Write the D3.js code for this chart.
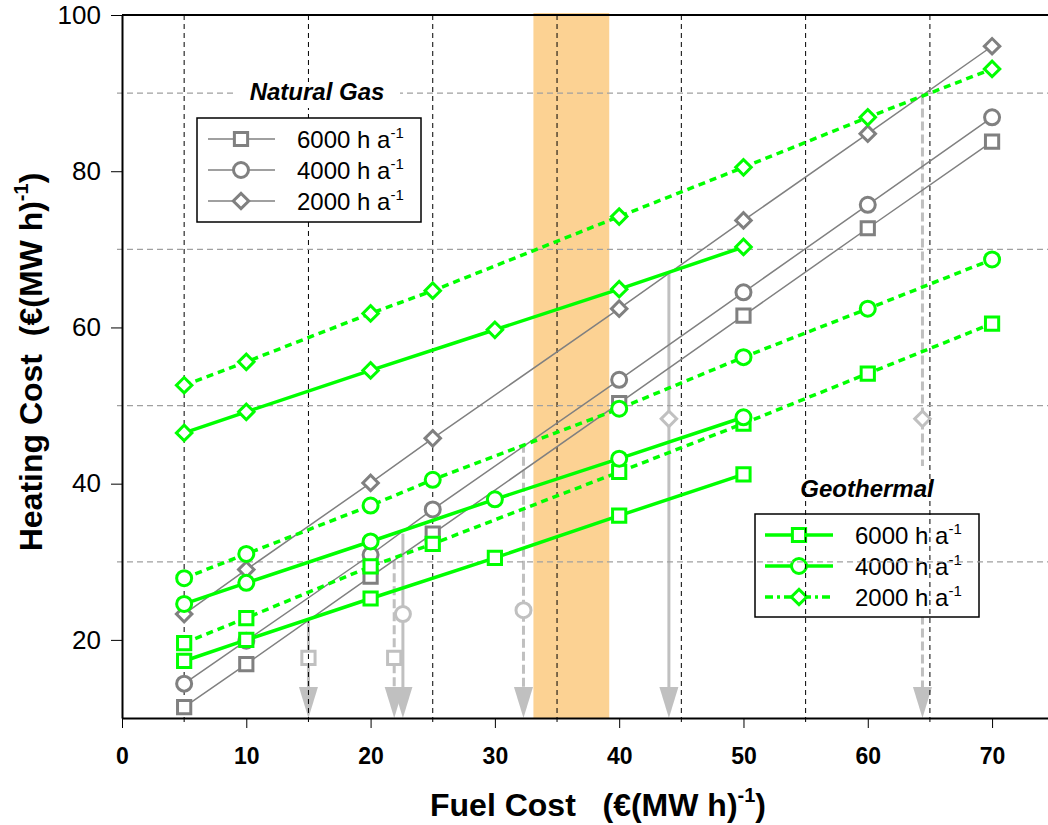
<!DOCTYPE html>
<html>
<head>
<meta charset="utf-8">
<script src="https://cdn.jsdelivr.net/npm/d3@7"></script>
<style>
  body { margin: 0; background: #fff; }
  text { font-family: "Liberation Sans", Arial, sans-serif; }
</style>
</head>
<body>
<div id="chart"></div>
<script>
// fuel cost values (x) for each family of curves
const gasFuel = [5, 10, 20, 25, 40, 50, 60, 70];
const gas6000 = [11.4, 16.9, 28.1, 33.6, 50.3, 61.5, 72.7, 83.8];
const gas4000 = [14.4, 19.9, 30.9, 36.7, 53.3, 64.5, 75.7, 86.9];
const gas2000 = [23.3, 29.0, 40.1, 45.8, 62.4, 73.7, 84.8, 96.0];

// geothermal, solid curves
const geoFuelA = [5, 10, 20, 30, 40, 50];
const geoA6000 = [17.3, 20.0, 25.3, 30.5, 35.9, 41.2];
const geoA4000 = [24.6, 27.3, 32.6, 38.0, 43.2, 48.5];
const geoA2000 = [46.5, 49.2, 54.5, 59.7, 64.9, 70.3];

// geothermal, dotted curves
const geoFuelB = [5, 10, 20, 25, 40, 50, 60, 70];
const geoB6000 = [19.6, 22.8, 29.4, 32.3, 41.5, 47.7, 54.1, 60.5];
const geoB4000 = [27.9, 31.0, 37.2, 40.5, 49.6, 56.2, 62.4, 68.7];
const geoB2000 = [52.6, 55.6, 61.8, 64.7, 74.2, 80.5, 86.9, 93.1];

// break-even arrows
const arrowFuel  = [15, 21.9, 22.6, 32.3, 44.0, 64.4];
const arrowTop   = [22.5, 30.2, 33.6, 45.1, 67.0, 89.7];
const arrowMark  = [17.7, 17.7, 23.3, 23.8, 48.3, 48.3];
const arrowShape = ["square", "square", "circle", "circle", "diamond", "diamond"];
const arrowDash  = [false, true, false, true, false, true];

// shaded band of fuel cost
const bandRange = [33.1, 39.2];

const xTicks = [0, 10, 20, 30, 40, 50, 60, 70];
const xGrid = [5, 15, 25, 35, 45, 55, 65];
const yTicks = [20, 40, 60, 80, 100];
const yGrid = [30, 50, 70, 90];

const legendRates = ["6000", "4000", "2000"];

const WIDTH = 1048, HEIGHT = 825;
const GREEN = "#00ff00", GRAY = "#808080", LIGHT = "#c0c0c0";

var svg = d3.select("#chart").append("svg")
    .attr("width", WIDTH)
    .attr("height", HEIGHT);

var x = d3.scaleLinear().domain([0, 74.5]).range([122, 1048]);
var y = d3.scaleLinear().domain([10, 100]).range([718, 15]);

// marker drawing helper
function marker(g, shape, cx, cy, color, sw) {
    var p;
    if (shape === "square") {
        p = g.append("path").attr("d", d3.symbol().type(d3.symbolSquare).size(175)())
            .attr("transform", "translate(" + cx + "," + cy + ")");
    } else if (shape === "circle") {
        p = g.append("circle").attr("cx", cx).attr("cy", cy).attr("r", 7.5);
    } else {
        p = g.append("path").attr("d", d3.symbol().type(d3.symbolSquare).size(120)())
            .attr("transform", "translate(" + cx + "," + cy + ") rotate(45)");
    }
    p.attr("fill", "white").attr("stroke", color).attr("stroke-width", sw);
    return p;
}

// orange band
svg.append("rect")
    .attr("x", x(bandRange[0]))
    .attr("y", 13)
    .attr("width", x(bandRange[1]) - x(bandRange[0]))
    .attr("height", y(10) - 13)
    .attr("fill", "#fcd293");

// arrows
var arrows = svg.append("g");
var headH = 31, headW = 19;
arrowFuel.forEach(function(f, i) {
    var ax = x(f);
    arrows.append("line")
        .attr("x1", ax).attr("x2", ax)
        .attr("y1", y(arrowTop[i])).attr("y2", y(10) - headH + 2)
        .attr("stroke", LIGHT)
        .attr("stroke-width", 3)
        .attr("stroke-dasharray", arrowDash[i] ? "9,4" : null);
    arrows.append("path")
        .attr("d", "M" + (ax - headW / 2) + "," + (y(10) - headH) + "L" + (ax + headW / 2) + "," + (y(10) - headH) + "L" + ax + "," + y(10) + "Z")
        .attr("fill", LIGHT);
    marker(arrows, arrowShape[i], ax, y(arrowMark[i]), LIGHT, 3);
});

// geothermal legend (sits under the grid)
var geoLeg = svg.append("g");
geoLeg.append("rect")
    .attr("x", 793).attr("y", 466).attr("width", 150).attr("height", 48)
    .attr("fill", "white");
geoLeg.append("rect")
    .attr("x", 755).attr("y", 514).attr("width", 224).attr("height", 103)
    .attr("fill", "white").attr("stroke", "#000").attr("stroke-width", 1.5);
geoLeg.append("text")
    .attr("x", 867).attr("y", 497)
    .attr("text-anchor", "middle")
    .style("font-size", "24px").style("font-weight", "bold").style("font-style", "italic")
    .text("Geothermal");
var geoShapes = ["square", "circle", "diamond"];
legendRates.forEach(function(r, i) {
    var ly = 535 + i * 31;
    geoLeg.append("line")
        .attr("x1", 765).attr("x2", 833).attr("y1", ly).attr("y2", ly)
        .attr("stroke", GREEN).attr("stroke-width", 3.5)
        .attr("stroke-dasharray", i === 2 ? "8,4,3,4" : null);
    marker(geoLeg, geoShapes[i], 799, ly, GREEN, 3);
    var t = geoLeg.append("text")
        .attr("x", 855).attr("y", ly + 9)
        .style("font-size", "24px");
    t.append("tspan").text(r + " h a");
    t.append("tspan").attr("dy", -10).style("font-size", "15px").text("-1");
});

// grid
var grid = svg.append("g");
grid.selectAll(".vgrid")
    .data(xGrid)
    .enter().append("line")
    .attr("x1", function(d) { return x(d); })
    .attr("x2", function(d) { return x(d); })
    .attr("y1", 15).attr("y2", y(10) + 8)
    .attr("stroke", "#000").attr("stroke-width", 1)
    .attr("stroke-dasharray", "5,4");
grid.selectAll(".hgrid")
    .data(yGrid)
    .enter().append("line")
    .attr("x1", 117).attr("x2", 1048)
    .attr("y1", function(d) { return y(d); })
    .attr("y2", function(d) { return y(d); })
    .attr("stroke", "#a0a0a0").attr("stroke-width", 1.3)
    .attr("stroke-dasharray", "6,4");

// axes
var xAxis = svg.append("g")
    .attr("transform", "translate(0," + y(10) + ")")
    .call(d3.axisBottom(x).tickValues(xTicks).tickSize(10).tickSizeOuter(0).tickPadding(20));
xAxis.select(".domain").attr("stroke-width", 2);
xAxis.selectAll("text").style("font-size", "23px").style("font-weight", "bold");

var yAxis = svg.append("g")
    .attr("transform", "translate(" + x(0) + ",0)")
    .call(d3.axisLeft(y).tickValues(yTicks).tickSize(11).tickSizeOuter(0).tickPadding(10));
yAxis.select(".domain").attr("stroke-width", 2);
yAxis.selectAll("text").style("font-size", "26px");

// top border
svg.append("line")
    .attr("x1", x(0)).attr("x2", 1048)
    .attr("y1", 15).attr("y2", 15)
    .attr("stroke", "#000").attr("stroke-width", 2);

// series
var lineGen = d3.line()
    .x(function(d) { return x(d[0]); })
    .y(function(d) { return y(d[1]); });

function series(fuel, vals, color, width, dash, shape, msw) {
    var pts = d3.zip(fuel, vals);
    var g = svg.append("g");
    g.append("path")
        .attr("d", lineGen(pts))
        .attr("fill", "none")
        .attr("stroke", color)
        .attr("stroke-width", width)
        .attr("stroke-dasharray", dash);
    pts.forEach(function(p) {
        marker(g, shape, x(p[0]), y(p[1]), color, msw);
    });
}

series(gasFuel, gas6000, GRAY, 1.5, null, "square", 3);
series(gasFuel, gas4000, GRAY, 1.5, null, "circle", 3);
series(gasFuel, gas2000, GRAY, 1.5, null, "diamond", 3);

series(geoFuelB, geoB6000, GREEN, 3.5, "7,5", "square", 3);
series(geoFuelB, geoB4000, GREEN, 3.5, "7,5", "circle", 3);
series(geoFuelB, geoB2000, GREEN, 3.5, "7,5", "diamond", 3);

series(geoFuelA, geoA6000, GREEN, 3.5, null, "square", 3);
series(geoFuelA, geoA4000, GREEN, 3.5, null, "circle", 3);
series(geoFuelA, geoA2000, GREEN, 3.5, null, "diamond", 3);

// natural gas legend (on top of grid)
var gasLeg = svg.append("g");
gasLeg.append("rect")
    .attr("x", 236).attr("y", 82).attr("width", 164).attr("height", 26)
    .attr("fill", "white");
gasLeg.append("text")
    .attr("x", 317).attr("y", 100)
    .attr("text-anchor", "middle")
    .style("font-size", "24px").style("font-weight", "bold").style("font-style", "italic")
    .text("Natural Gas");
gasLeg.append("rect")
    .attr("x", 197).attr("y", 118).attr("width", 224).attr("height", 104)
    .attr("fill", "white").attr("stroke", "#000").attr("stroke-width", 1.5);
legendRates.forEach(function(r, i) {
    var ly = 139 + i * 31;
    gasLeg.append("line")
        .attr("x1", 208).attr("x2", 275).attr("y1", ly).attr("y2", ly)
        .attr("stroke", GRAY).attr("stroke-width", 1.5);
    marker(gasLeg, geoShapes[i], 241, ly, GRAY, 3);
    var t = gasLeg.append("text")
        .attr("x", 297).attr("y", ly + 9)
        .style("font-size", "24px");
    t.append("tspan").text(r + " h a");
    t.append("tspan").attr("dy", -10).style("font-size", "15px").text("-1");
});

// axis titles
var xt = svg.append("text")
    .attr("x", 598).attr("y", 816)
    .attr("text-anchor", "middle")
    .style("font-size", "32px").style("font-weight", "bold");
xt.append("tspan").text("Fuel Cost\u00a0\u00a0\u00a0(\u20ac(MW h)");
xt.append("tspan").attr("dy", -14).style("font-size", "20px").text("-1");
xt.append("tspan").attr("dy", 14).text(")");

var yt = svg.append("text")
    .attr("transform", "translate(42," + 362 + ") rotate(-90)")
    .attr("text-anchor", "middle")
    .style("font-size", "32px").style("font-weight", "bold");
yt.append("tspan").text("Heating Cost\u00a0\u00a0(\u20ac(MW h)");
yt.append("tspan").attr("dy", -14).style("font-size", "20px").text("-1");
yt.append("tspan").attr("dy", 14).text(")");
</script>
</body>
</html>
